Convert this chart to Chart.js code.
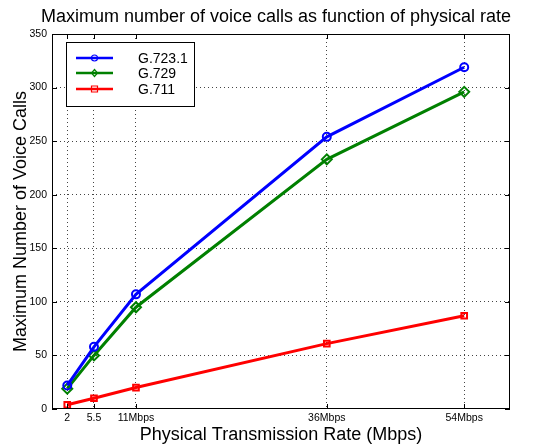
<!DOCTYPE html>
<html>
<head>
<meta charset="utf-8">
<script src="https://cdn.jsdelivr.net/npm/chart.js@4"></script>
<style>
  html, body { margin: 0; padding: 0; background: #fff; }
  #wrap { width: 543px; height: 447px; }
</style>
</head>
<body>
<div id="wrap"><canvas id="voiceChart" width="543" height="447"></canvas></div>
<script>
// Data
const rates = [2, 5.5, 11, 36, 54];
const rateLabels = ['2', '5.5', '11Mbps', '36Mbps', '54Mbps'];
const g7231 = [22, 58, 107, 254, 319];
const g729 = [19, 50, 95, 233, 296];
const g711 = [4, 10, 20, 61, 87];
const yTicks = [0, 50, 100, 150, 200, 250, 300, 350];

const FONT = 'Liberation Sans, Arial, Helvetica, sans-serif';

function toPoints(values) {
  return rates.map((r, i) => ({ x: r, y: values[i] }));
}

// Title, frame, inward tick marks and legend box (MATLAB look)
const matlabDecor = {
  id: 'matlabDecor',
  afterDraw(chart) {
    const { ctx, chartArea: a, scales } = chart;
    ctx.save();

    // title
    ctx.fillStyle = '#000';
    ctx.font = '18px ' + FONT;
    ctx.textAlign = 'center';
    ctx.textBaseline = 'middle';
    ctx.fillText('Maximum number of voice calls as function of physical rate', 276, 17);

    // frame
    ctx.strokeStyle = '#000';
    ctx.lineWidth = 1;
    ctx.strokeRect(a.left + 0.5, a.top + 0.5, a.right - a.left - 1, a.bottom - a.top - 1);

    // inward ticks
    const len = 5;
    ctx.beginPath();
    rates.forEach(v => {
      const x = Math.round(scales.x.getPixelForValue(v)) + 0.5;
      ctx.moveTo(x, a.bottom); ctx.lineTo(x, a.bottom - len);
      ctx.moveTo(x, a.top); ctx.lineTo(x, a.top + len);
    });
    yTicks.forEach(v => {
      const y = Math.round(scales.y.getPixelForValue(v)) + 0.5;
      ctx.moveTo(a.left, y); ctx.lineTo(a.left + len, y);
      ctx.moveTo(a.right, y); ctx.lineTo(a.right - len, y);
    });
    ctx.stroke();

    // legend
    const box = { x: 66, y: 42, w: 128, h: 64 };
    ctx.fillStyle = '#fff';
    ctx.fillRect(box.x, box.y, box.w, box.h);
    ctx.strokeRect(box.x + 0.5, box.y + 0.5, box.w, box.h);
    const rowY = [58, 73, 89];
    chart.data.datasets.forEach((ds, i) => {
      const y = rowY[i];
      ctx.strokeStyle = ds.borderColor;
      ctx.lineWidth = 2.5;
      ctx.beginPath();
      ctx.moveTo(76, y); ctx.lineTo(113, y);
      ctx.stroke();
      ctx.lineWidth = 1.2;
      ctx.beginPath();
      const cx = 94.5;
      if (ds.pointStyle === 'circle') {
        ctx.arc(cx, y, 3, 0, Math.PI * 2);
      } else if (ds.pointStyle === 'rectRot') {
        ctx.moveTo(cx, y - 3.5); ctx.lineTo(cx + 3, y); ctx.lineTo(cx, y + 3.5); ctx.lineTo(cx - 3, y); ctx.closePath();
      } else {
        ctx.rect(cx - 3, y - 3, 6, 6);
      }
      ctx.stroke();
      ctx.fillStyle = '#000';
      ctx.font = '14px ' + FONT;
      ctx.textAlign = 'left';
      ctx.fillText(ds.label, 138, y + 1);
    });
    ctx.restore();
  }
};

function series(label, values, color, style) {
  return {
    label: label,
    data: toPoints(values),
    borderColor: color,
    backgroundColor: 'rgba(0,0,0,0)',
    borderWidth: 3,
    pointStyle: style,
    pointRadius: style === 'rectRot' ? 5 : 4,
    pointBorderWidth: 2,
    pointBackgroundColor: 'rgba(0,0,0,0)',
    pointBorderColor: color,
    tension: 0
  };
}

new Chart(document.getElementById('voiceChart'), {
  type: 'line',
  data: {
    datasets: [
      series('G.723.1', g7231, '#0000ff', 'circle'),
      series('G.729', g729, '#008000', 'rectRot'),
      series('G.711', g711, '#ff0000', 'rect')
    ]
  },
  options: {
    responsive: false,
    animation: false,
    devicePixelRatio: 1,
    layout: { padding: { top: 34, right: 33, left: 0, bottom: 0 } },
    plugins: {
      legend: { display: false },
      tooltip: { enabled: false },
      title: { display: false }
    },
    scales: {
      x: {
        type: 'linear',
        min: 0,
        max: 60,
        afterBuildTicks(scale) {
          scale.ticks = rates.map(v => ({ value: v }));
        },
        afterFit(scale) { scale.height = 38; },
        ticks: {
          autoSkip: false,
          maxRotation: 0,
          padding: 3,
          color: '#000',
          font: { family: FONT, size: 10.5 },
          callback(value) {
            const i = rates.indexOf(value);
            return i >= 0 ? rateLabels[i] : '';
          }
        },
        grid: { color: '#444', lineWidth: 1, drawTicks: false },
        border: { display: false, dash: [1, 3] },
        title: {
          display: true,
          text: 'Physical Transmission Rate (Mbps)',
          color: '#000',
          font: { family: FONT, size: 18 },
          padding: { top: 0, bottom: 1 }
        }
      },
      y: {
        min: 0,
        max: 350,
        afterBuildTicks(scale) {
          scale.ticks = yTicks.map(v => ({ value: v }));
        },
        afterFit(scale) { scale.width = 52; },
        ticks: {
          padding: 5,
          color: '#000',
          font: { family: FONT, size: 10.5 }
        },
        grid: {
          color: ctx => (ctx.tick && (ctx.tick.value === 0 || ctx.tick.value === 350)) ? 'rgba(0,0,0,0)' : '#444',
          lineWidth: 1,
          drawTicks: false
        },
        border: { display: false, dash: [1, 3] },
        title: {
          display: true,
          text: 'Maximum Number of Voice Calls',
          color: '#000',
          font: { family: FONT, size: 18 },
          padding: { top: 10, bottom: 0 }
        }
      }
    }
  },
  plugins: [matlabDecor]
});
</script>
</body>
</html>
